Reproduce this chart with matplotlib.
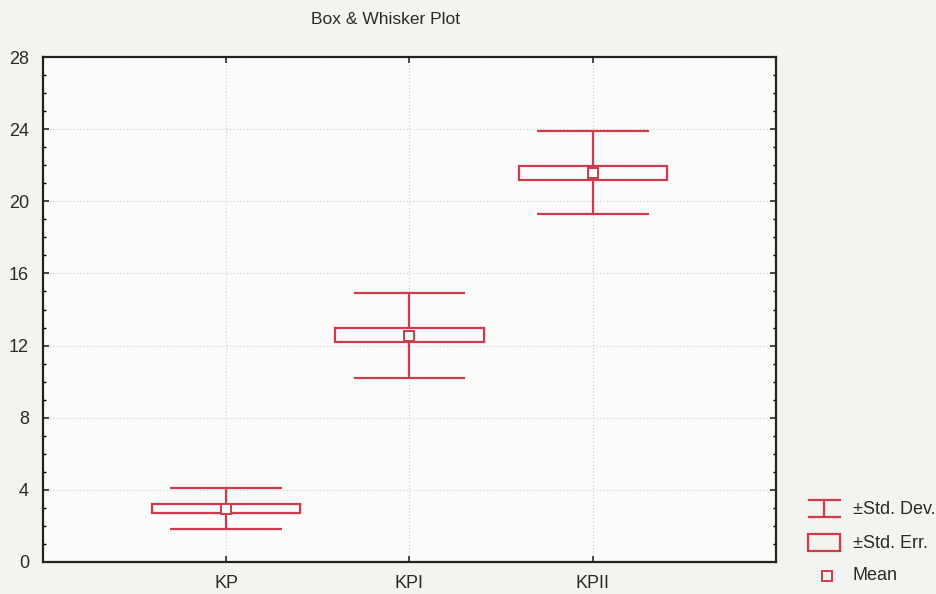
import matplotlib
matplotlib.use("Agg")
import matplotlib.pyplot as plt
from matplotlib.patches import Rectangle
from matplotlib.ticker import MultipleLocator

categories = ["KP", "KPI", "KPII"]
means = [2.95, 12.55, 21.55]
se_low = [2.73, 12.19, 21.16]
se_high = [3.23, 12.97, 21.94]
sd_low = [1.84, 10.19, 19.27]
sd_high = [4.12, 14.92, 23.89]
y_ticks = [0, 4, 8, 12, 16, 20, 24, 28]

RED = "#cf3a4c"
TXT = "#2a2a2a"
plt.rcParams['font.family'] = ['Liberation Sans', 'DejaVu Sans']

fig = plt.figure(figsize=(9.37, 5.94), dpi=100, facecolor="#f3f3ef")
ax = fig.add_axes([43/937, 32/594, 733/937, 505/594])
ax.set_facecolor("#fbfbf9")

pos = list(range(1, len(categories) + 1))
box_w = 0.81
cap_w = 0.61
for x, m, sl, sh, dl, dh in zip(pos, means, se_low, se_high, sd_low, sd_high):
    ax.hlines([dl, dh], x - cap_w/2, x + cap_w/2, color=RED, lw=1.6, zorder=3)
    ax.vlines(x, sh, dh, color=RED, lw=1.6, zorder=3)
    ax.vlines(x, dl, sl, color=RED, lw=1.6, zorder=3)
    ax.add_patch(Rectangle((x - box_w/2, sl), box_w, sh - sl, fill=False,
                           ec=RED, lw=1.6, zorder=3))
    ax.plot([x], [m], marker="s", ms=7, mfc="#fbfbf9", mec=RED, mew=1.4, zorder=4)

ax.set_xlim(0, 4)
ax.set_ylim(0, 28)
ax.set_xticks(pos)
ax.set_xticklabels(categories)
ax.set_yticks(y_ticks)
ax.yaxis.set_minor_locator(MultipleLocator(1))
ax.tick_params(axis="both", which="major", direction="in", length=4, width=1.2,
               labelsize=13, colors=TXT, top=True, right=True)
ax.tick_params(axis="y", which="major", pad=10)
ax.tick_params(axis="y", which="minor", direction="in", length=2.5, width=1,
               right=True, left=True)
ax.tick_params(axis="x", which="major", pad=9)
ax.grid(True, axis="both", which="major", ls=(0, (1, 2)), color="#cdcdcd", lw=0.8)
for s in ax.spines.values():
    s.set_linewidth(1.6)
    s.set_color("#222222")

fig.text(386/937, 1 - 19/594, "Box & Whisker Plot", ha="center", va="center",
         fontsize=12.5, color=TXT)

# Legend
lg = fig.add_axes([800/937, 0, 137/937, 100/594])
lg.set_xlim(0, 137)
lg.set_ylim(100, 0)
lg.axis("off")
lg.hlines([6, 23], 8, 41, color=RED, lw=1.6)
lg.vlines(24, 6, 23, color=RED, lw=1.6)
lg.add_patch(Rectangle((8, 40), 32, 17, fill=False, ec=RED, lw=1.6))
lg.plot([27], [82], marker="s", ms=7, mfc="#f3f3ef", mec=RED, mew=1.4)
lg.text(53, 15, "±Std. Dev.", va="center", fontsize=13, color=TXT)
lg.text(53, 50, "±Std. Err.", va="center", fontsize=13, color=TXT)
lg.text(53, 82, "Mean", va="center", fontsize=13, color=TXT)

fig.savefig("out.png", dpi=100, facecolor=fig.get_facecolor())
